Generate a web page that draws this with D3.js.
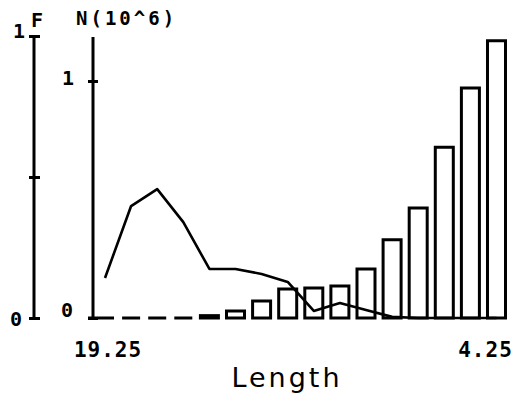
<!DOCTYPE html>
<html><head><meta charset="utf-8">
<script src="https://cdnjs.cloudflare.com/ajax/libs/d3/7.8.5/d3.min.js"></script>
<style>body{margin:0;background:#fff}svg{display:block}</style>
</head><body><svg id="c" width="525" height="399"></svg>
<script>
const categories = ["19.25","18.25","17.25","16.25","15.25","14.25","13.25","12.25","11.25","10.25","9.25","8.25","7.25","6.25","5.25","4.25"];
const nValues = [0,0,0,0,0.01,0.03,0.072,0.122,0.127,0.135,0.207,0.33,0.464,0.72,0.97,1.17];
const fValues = [0.142,0.397,0.457,0.34,0.174,0.174,0.156,0.128,0.025,0.053,0.028,0.004,0,0,0,0];
const xTickLabels = ["19.25","4.25"];
const nTicks = [0,1];
const fTicks = [0,0.5,1];

const svg = d3.select("#c");
const x = d3.scaleBand().domain(categories).range([96, 505.5]).paddingInner(0.31).paddingOuter(0);
const yN = d3.scaleLinear().domain([0,1]).range([318, 81]);
const yF = d3.scaleLinear().domain([0,1]).range([318, 36]);
const font = "'DejaVu Sans Mono', monospace";

// F axis
const fAx = svg.append("g").attr("transform","translate(34,0)")
  .call(d3.axisLeft(yF).tickValues(fTicks).tickSize(5).tickFormat(""));
fAx.select(".domain").remove();
fAx.append("line").attr("x1",0).attr("x2",0).attr("y1",yF(1)).attr("y2",yF(0)).attr("stroke","#000").attr("stroke-width",3);
fAx.selectAll(".tick line").attr("x1",-5).attr("x2",6).attr("stroke","#000").attr("stroke-width",3);

// N axis
const nAx = svg.append("g").attr("transform","translate(93,0)")
  .call(d3.axisLeft(yN).tickValues(nTicks).tickSize(5).tickFormat(""));
nAx.select(".domain").remove();
nAx.append("line").attr("x1",0).attr("x2",0).attr("y1",37).attr("y2",yN(0)).attr("stroke","#000").attr("stroke-width",3);
nAx.selectAll(".tick line").attr("x1",-5).attr("x2",5).attr("stroke","#000").attr("stroke-width",3);

// labels
const txt = (t,xx,yy,size,opts={}) => svg.append("text").text(t).attr("x",xx).attr("y",yy)
  .attr("font-family",opts.family||font).attr("font-size",size).attr("font-weight",opts.weight||"bold")
  .attr("letter-spacing",opts.ls||0).attr("text-anchor",opts.anchor||"start").attr("fill","#000");
txt("F",31,27,20);
txt("1",13,38,20);
txt("0",10,326,20);
txt("N(10^6)",76,25,19,{ls:3});
txt("1",62,85,20);
txt("0",61,317,20);
txt(xTickLabels[0], x(categories[0]) + x.bandwidth()/2 + 3, 357, 21, {anchor:"middle", ls:1});
txt(xTickLabels[1], x(categories[categories.length-1]) + x.bandwidth()/2 - 11, 357, 21, {anchor:"middle", ls:1});
txt("Length", 287, 387, 27, {anchor:"middle", weight:"normal", family:"'DejaVu Sans', sans-serif", ls:3});

// baseline join from axis to first bar
svg.append("line").attr("x1",88).attr("x2",x(categories[0])).attr("y1",yN(0)).attr("y2",yN(0)).attr("stroke","#000").attr("stroke-width",3);

// bars
svg.append("g").selectAll("path").data(nValues).join("path")
  .attr("d",(d,i)=>{const x0=x(categories[i]), w=x.bandwidth(), y0=yN(0), y1=yN(d);
     return `M${x0},${y0}V${y1}H${x0+w}V${y0}Z`;})
  .attr("fill","none").attr("stroke","#000").attr("stroke-width",3).attr("stroke-linejoin","miter");

// F line
const line = d3.line().x((d,i)=>x(categories[i])+x.bandwidth()/2).y(d=>yF(d));
svg.append("path").datum(fValues).attr("d",line).attr("fill","none").attr("stroke","#000").attr("stroke-width",2.6).attr("stroke-linejoin","round");
</script></body></html>
